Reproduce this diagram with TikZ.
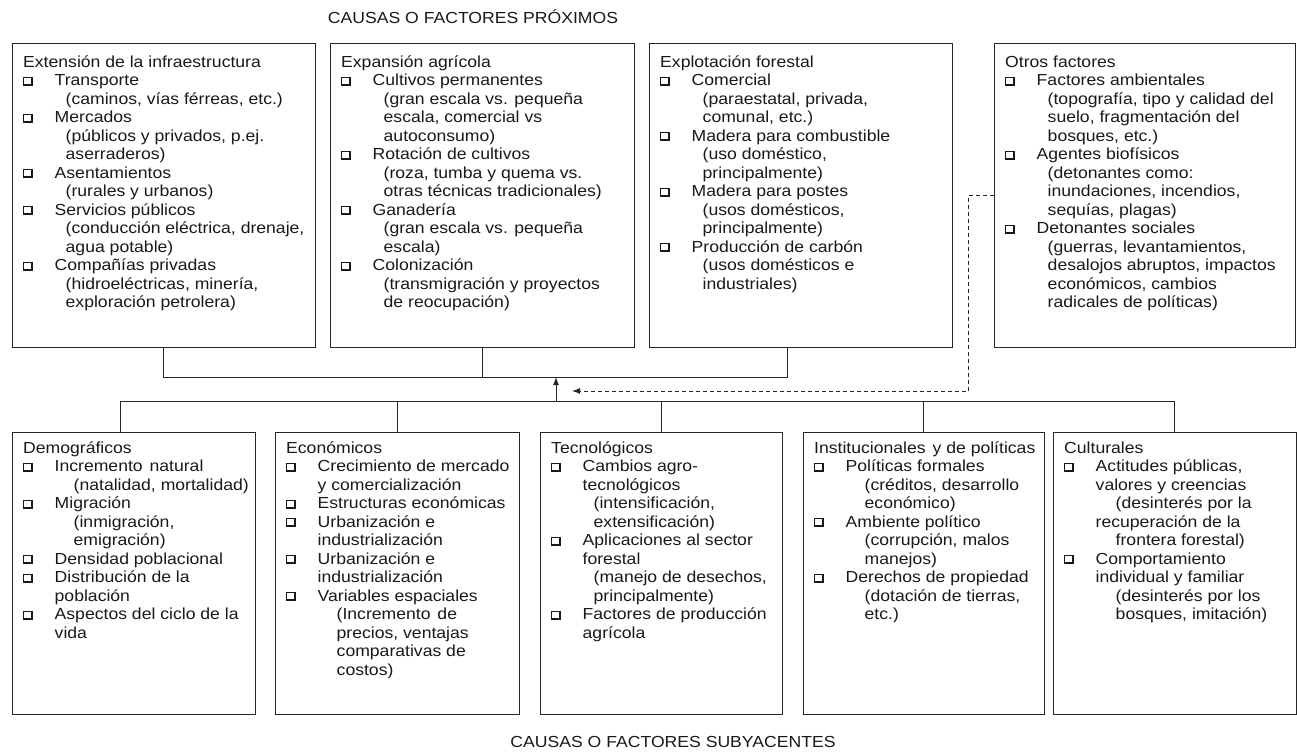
\documentclass[tikz,border=0pt]{standalone}
\usepackage{fontspec}
\setmainfont{Liberation Sans}[FakeStretch=1.1]
\usetikzlibrary{arrows.meta,calc}
\newdimen\sind
\newcommand\chk{\vbox{\hrule height 1.1pt\hbox{\vrule width 1.1pt height 5.6pt\kern 6.8pt\vrule width 2pt}\hrule height 2pt}}
\newcommand\ttl[1]{\hbox{#1}}
\newcommand\itm[1]{\hbox{\hbox to 31.5pt{\chk\hss}#1}}
\newcommand\cnt[1]{\hbox{\kern31.5pt #1}}
\newcommand\sbl[1]{\hbox{\kern31.5pt\kern\sind #1}}
\tikzset{
  box/.style={draw=black!85, line width=1pt, anchor=north west, inner sep=0pt, outer sep=0pt},
  txt/.style={anchor=base west, inner sep=0pt, font=\fontsize{16}{18.5}\selectfont, text=black!90},
  head/.style={inner sep=0pt, font=\fontsize{16}{18.5}\selectfont, text=black!90},
  conn/.style={draw=black!85, line width=1pt},
  dashconn/.style={draw=black!85, line width=1pt, dash pattern=on 4pt off 3pt},
  tip/.style={-{Latex[length=8pt,width=6pt]}}
}
\begin{document}
\begin{tikzpicture}[x=1pt,y=-1pt]
\useasboundingbox (0,0) rectangle (1297,752);
\node[head] (h1) at (473,17) {CAUSAS O FACTORES PRÓXIMOS};
\node[head] (h2) at (673,742) {CAUSAS O FACTORES SUBYACENTES};
% top boxes
\node[box, minimum width=303pt, minimum height=303pt] (b1) at (12,44) {};
\node[box, minimum width=304pt, minimum height=303pt] (b2) at (330,44) {};
\node[box, minimum width=303pt, minimum height=303pt] (b3) at (649,44) {};
\node[box, minimum width=301pt, minimum height=303pt] (b4) at (994,44) {};
% bottom boxes
\node[box, minimum width=243pt, minimum height=282pt] (c1) at (12,432) {};
\node[box, minimum width=244pt, minimum height=282pt] (c2) at (275,432) {};
\node[box, minimum width=242pt, minimum height=282pt] (c3) at (540,432) {};
\node[box, minimum width=241pt, minimum height=282pt] (c4) at (803,432) {};
\node[box, minimum width=243pt, minimum height=282pt] (c5) at (1053,432) {};

\node[txt] (tb1) at ($(b1.north west)+(11,23)$) {\vtop{\baselineskip=18.5pt \sind=11pt
\ttl{Extensión de la infraestructura}
\itm{Transporte}
\sbl{(caminos, vías férreas, etc.)}
\itm{Mercados}
\sbl{(públicos y privados, p.ej.}
\sbl{aserraderos)}
\itm{Asentamientos}
\sbl{(rurales y urbanos)}
\itm{Servicios públicos}
\sbl{(conducción eléctrica, drenaje,}
\sbl{agua potable)}
\itm{Compañías privadas}
\sbl{(hidroeléctricas, minería,}
\sbl{exploración petrolera)}}};

\node[txt] (tb2) at ($(b2.north west)+(11,23)$) {\vtop{\baselineskip=18.5pt \sind=11pt
\ttl{Expansión agrícola}
\itm{Cultivos permanentes}
\sbl{(gran escala vs. pequeña}
\sbl{escala, comercial vs}
\sbl{autoconsumo)}
\itm{Rotación de cultivos}
\sbl{(roza, tumba y quema vs.}
\sbl{otras técnicas tradicionales)}
\itm{Ganadería}
\sbl{(gran escala vs. pequeña}
\sbl{escala)}
\itm{Colonización}
\sbl{(transmigración y proyectos}
\sbl{de reocupación)}}};

\node[txt] (tb3) at ($(b3.north west)+(11,23)$) {\vtop{\baselineskip=18.5pt \sind=11pt
\ttl{Explotación forestal}
\itm{Comercial}
\sbl{(paraestatal, privada,}
\sbl{comunal, etc.)}
\itm{Madera para combustible}
\sbl{(uso doméstico,}
\sbl{principalmente)}
\itm{Madera para postes}
\sbl{(usos domésticos,}
\sbl{principalmente)}
\itm{Producción de carbón}
\sbl{(usos domésticos e}
\sbl{industriales)}}};

\node[txt] (tb4) at ($(b4.north west)+(11,23)$) {\vtop{\baselineskip=18.5pt \sind=11pt
\ttl{Otros factores}
\itm{Factores ambientales}
\sbl{(topografía, tipo y calidad del}
\sbl{suelo, fragmentación del}
\sbl{bosques, etc.)}
\itm{Agentes biofísicos}
\sbl{(detonantes como:}
\sbl{inundaciones, incendios,}
\sbl{sequías, plagas)}
\itm{Detonantes sociales}
\sbl{(guerras, levantamientos,}
\sbl{desalojos abruptos, impactos}
\sbl{económicos, cambios}
\sbl{radicales de políticas)}}};

\node[txt] (tc1) at ($(c1.north west)+(11,21)$) {\vtop{\baselineskip=18.5pt \sind=19pt
\ttl{Demográficos}
\itm{Incremento\kern2pt\ natural}
\sbl{(natalidad, mortalidad)}
\itm{Migración}
\sbl{(inmigración,}
\sbl{emigración)}
\itm{Densidad poblacional}
\itm{Distribución de la}
\cnt{población}
\itm{Aspectos del ciclo de la}
\cnt{vida}}};

\node[txt] (tc2) at ($(c2.north west)+(11,21)$) {\vtop{\baselineskip=18.5pt \sind=19pt
\ttl{Económicos}
\itm{Crecimiento de mercado}
\cnt{y comercialización}
\itm{Estructuras económicas}
\itm{Urbanización e}
\cnt{industrialización}
\itm{Urbanización e}
\cnt{industrialización}
\itm{Variables espaciales}
\sbl{(Incremento\kern2pt\ de}
\sbl{precios, ventajas}
\sbl{comparativas de}
\sbl{costos)}}};

\node[txt] (tc3) at ($(c3.north west)+(11,21)$) {\vtop{\baselineskip=18.5pt \sind=11pt
\ttl{Tecnológicos}
\itm{Cambios agro-}
\cnt{tecnológicos}
\sbl{(intensificación,}
\sbl{extensificación)}
\itm{Aplicaciones al sector}
\cnt{forestal}
\sbl{(manejo de desechos,}
\sbl{principalmente)}
\itm{Factores de producción}
\cnt{agrícola}}};

\node[txt] (tc4) at ($(c4.north west)+(11,21)$) {\vtop{\baselineskip=18.5pt \sind=19pt
\ttl{Institucionales\kern2pt\ y de políticas}
\itm{Políticas formales}
\sbl{(créditos, desarrollo}
\sbl{económico)}
\itm{Ambiente político}
\sbl{(corrupción, malos}
\sbl{manejos)}
\itm{Derechos de propiedad}
\sbl{(dotación de tierras,}
\sbl{etc.)}}};

\node[txt] (tc5) at ($(c5.north west)+(11,21)$) {\vtop{\baselineskip=18.5pt \sind=20pt
\ttl{Culturales}
\itm{Actitudes públicas,}
\cnt{valores y creencias}
\sbl{(desinterés por la}
\cnt{recuperación de la}
\sbl{frontera forestal)}
\itm{Comportamiento}
\cnt{individual y familiar}
\sbl{(desinterés por los}
\sbl{bosques, imitación)}}};

% connector points
\coordinate (b3c) at (787,347);
\coordinate (tj) at (556,377);
\coordinate (bj) at (556,401);
\coordinate (c1c) at (120,432);
\coordinate (dk) at (968,391);
\coordinate (dj) at (572,391);

% top connector
\draw[conn] (b1.south) |- (b3c |- tj) -- (b3c);
\draw[conn] (b2.south) -- (b2.south |- tj);
% bottom connector
\draw[conn] (c1c) |- (c5.north |- bj) -- (c5.north);
\draw[conn] (c2.north) -- (c2.north |- bj);
\draw[conn] (c3.north) -- (c3.north |- bj);
\draw[conn] (c4.north) -- (c4.north |- bj);
% arrow up
\draw[conn, tip] (bj) -- (tj);
% dashed from Otros factores
\draw[dashconn, tip] (b4.west) -| (dk) -- (dj);
\end{tikzpicture}
\end{document}
